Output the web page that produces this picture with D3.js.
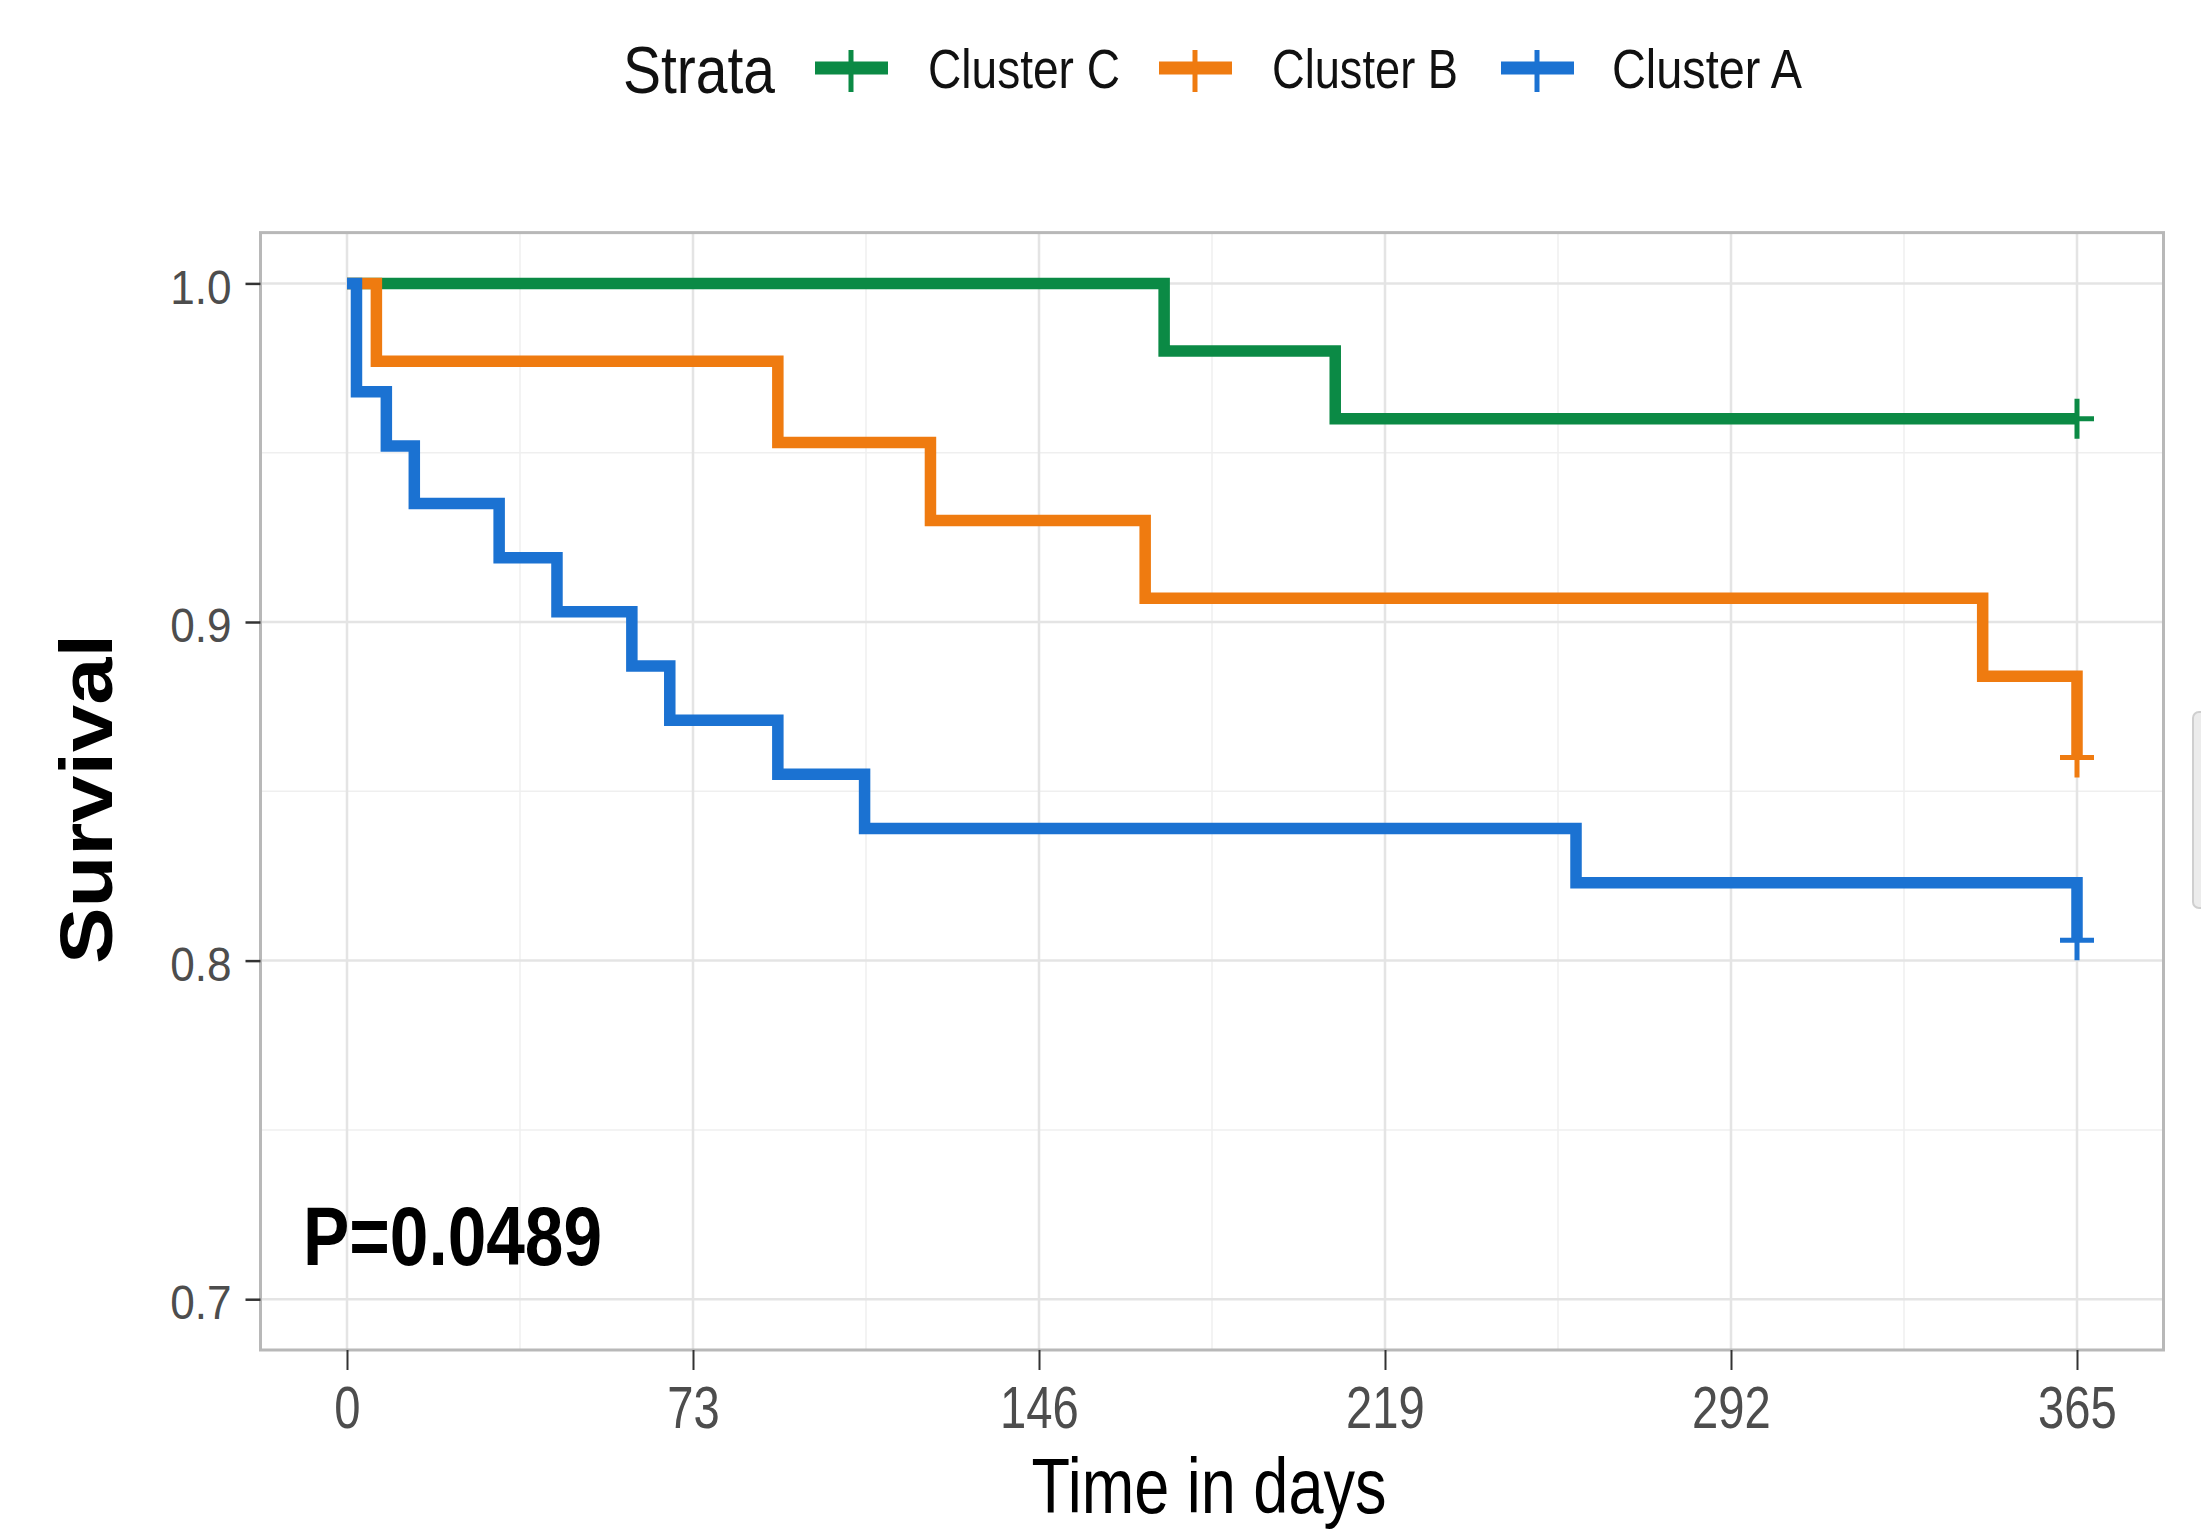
<!DOCTYPE html>
<html>
<head>
<meta charset="utf-8">
<script src="https://cdn.jsdelivr.net/npm/d3@7"></script>
<style>
  body { margin: 0; background: #fff; }
  svg { display: block; }
</style>
</head>
<body>
<div id="chart"></div>
<script>
// strata, in legend order
const strata = ["Cluster C", "Cluster B", "Cluster A"];
const colors = ["#0b8a45", "#ef7b10", "#1b72d2"];

// Kaplan-Meier steps (days, survival)
const timesC = [0, 172.4, 208.5, 365];
const survC  = [1, 0.980, 0.960, 0.960];
const timesB = [0, 6.2, 90.9, 123.1, 168.4, 345.1, 365];
const survB  = [1, 0.977, 0.953, 0.930, 0.907, 0.884, 0.860];
const timesA = [0, 2.0, 8.3, 14.2, 32.1, 44.3, 60.1, 68.1, 90.9, 109.2, 259.3, 365];
const survA  = [1, 0.968, 0.952, 0.935, 0.919, 0.903, 0.887, 0.871, 0.855, 0.839, 0.823, 0.806];
const censorTimes = [365, 365, 365];

const xTicks = [0, 73, 146, 219, 292, 365];
const xMinor = [36.5, 109.5, 182.5, 255.5, 328.5];
const yTicks = [0.7, 0.8, 0.9, 1.0];
const yMinor = [0.75, 0.85, 0.95];
const pValue = "P=0.0489";

const W = 2201, H = 1535;
const FONT = "'Liberation Sans', Arial, Helvetica, sans-serif";

const svg = d3.select("#chart").append("svg")
    .attr("width", W)
    .attr("height", H);

const x = d3.scaleLinear().domain([0, 365]).range([347, 2077]);
const y = d3.scaleLinear().domain([0.7, 1.0]).range([1299.2, 283.4]);

// ggplot style expansion of the panel
const xPad = 365 * 0.05, yPad = 0.3 * 0.05;
const px0 = x(-xPad), px1 = x(365 + xPad);
const py0 = y(1 + yPad), py1 = y(0.7 - yPad);

// squeeze text horizontally (the picture is condensed)
function squeeze(sel, k) {
    sel.each(function () {
        const w = this.getComputedTextLength();
        d3.select(this)
            .attr("textLength", w * k)
            .attr("lengthAdjust", "spacingAndGlyphs");
    });
}

// panel background + grid
svg.append("rect")
    .attr("x", px0).attr("y", py0)
    .attr("width", px1 - px0).attr("height", py1 - py0)
    .attr("fill", "#fff");

const grid = svg.append("g");
grid.selectAll(".vminor").data(xMinor).enter().append("line")
    .attr("x1", d => x(d)).attr("x2", d => x(d))
    .attr("y1", py0).attr("y2", py1)
    .attr("stroke", "#efefef").attr("stroke-width", 1.5);
grid.selectAll(".hminor").data(yMinor).enter().append("line")
    .attr("y1", d => y(d)).attr("y2", d => y(d))
    .attr("x1", px0).attr("x2", px1)
    .attr("stroke", "#efefef").attr("stroke-width", 1.5);
grid.selectAll(".vmajor").data(xTicks).enter().append("line")
    .attr("x1", d => x(d)).attr("x2", d => x(d))
    .attr("y1", py0).attr("y2", py1)
    .attr("stroke", "#e4e4e4").attr("stroke-width", 2.5);
grid.selectAll(".hmajor").data(yTicks).enter().append("line")
    .attr("y1", d => y(d)).attr("y2", d => y(d))
    .attr("x1", px0).attr("x2", px1)
    .attr("stroke", "#e4e4e4").attr("stroke-width", 2.5);

// curves (Cluster A drawn last, on top)
const series = [
    { name: strata[0], color: colors[0], t: timesC, s: survC, censor: censorTimes[0] },
    { name: strata[1], color: colors[1], t: timesB, s: survB, censor: censorTimes[1] },
    { name: strata[2], color: colors[2], t: timesA, s: survA, censor: censorTimes[2] },
];

const line = d3.line()
    .x(d => x(d[0]))
    .y(d => y(d[1]))
    .curve(d3.curveStepAfter);

series.forEach(sr => {
    const pts = sr.t.map((t, i) => [t, sr.s[i]]);
    svg.append("path")
        .datum(pts)
        .attr("fill", "none")
        .attr("stroke", sr.color)
        .attr("stroke-width", 11.5)
        .attr("stroke-linejoin", "miter")
        .attr("d", line);

    // censor mark
    const cx = x(sr.censor), cy = y(sr.s[sr.s.length - 1]);
    svg.append("path")
        .attr("d", `M${cx - 17},${cy}H${cx + 17}M${cx},${cy - 20}V${cy + 20}`)
        .attr("stroke", sr.color)
        .attr("stroke-width", 5)
        .attr("fill", "none");
});

// panel border
svg.append("rect")
    .attr("x", px0).attr("y", py0)
    .attr("width", px1 - px0).attr("height", py1 - py0)
    .attr("fill", "none")
    .attr("stroke", "#b8b8b8")
    .attr("stroke-width", 3);

// axes
const axisX = svg.append("g")
    .attr("transform", `translate(0,${py1})`)
    .call(d3.axisBottom(x).tickValues(xTicks).tickFormat(d3.format("d")).tickSize(20).tickPadding(16));
axisX.select(".domain").remove();
axisX.selectAll("line").attr("stroke", "#333").attr("stroke-width", 2);
axisX.selectAll("text")
    .attr("font-family", FONT).attr("font-size", 59).attr("fill", "#4d4d4d");
squeeze(axisX.selectAll("text"), 0.8);

const axisY = svg.append("g")
    .attr("transform", `translate(${px0},0)`)
    .call(d3.axisLeft(y).tickValues(yTicks).tickFormat(d3.format(".1f")).tickSize(15).tickPadding(14));
axisY.select(".domain").remove();
axisY.selectAll("line").attr("stroke", "#333").attr("stroke-width", 2.5);
axisY.selectAll("text")
    .attr("font-family", FONT).attr("font-size", 49).attr("fill", "#4d4d4d")
    .attr("dy", "0.4em");
squeeze(axisY.selectAll("text"), 0.9);

// axis titles
svg.append("text")
    .attr("x", (px0 + px1) / 2 - 3).attr("y", 1513)
    .attr("text-anchor", "middle")
    .attr("font-family", FONT).attr("font-size", 77).attr("fill", "#000")
    .attr("textLength", 355).attr("lengthAdjust", "spacingAndGlyphs")
    .text("Time in days");

svg.append("text")
    .attr("transform", "translate(112,799) rotate(-90)")
    .attr("text-anchor", "middle")
    .attr("font-family", FONT).attr("font-size", 74).attr("font-weight", "bold").attr("fill", "#000")
    .attr("textLength", 330).attr("lengthAdjust", "spacingAndGlyphs")
    .text("Survival");

// p-value
svg.append("text")
    .attr("x", 303).attr("y", 1265)
    .attr("font-family", FONT).attr("font-size", 84).attr("font-weight", "bold").attr("fill", "#000")
    .attr("textLength", 299).attr("lengthAdjust", "spacingAndGlyphs")
    .text(pValue);

// legend
const legend = svg.append("g");
legend.append("text")
    .attr("x", 623).attr("y", 93)
    .attr("font-family", FONT).attr("font-size", 66).attr("fill", "#111")
    .attr("textLength", 152).attr("lengthAdjust", "spacingAndGlyphs")
    .text("Strata");

const keyX = [815, 1159, 1501];
const labelX = [928, 1272, 1612];
const labelLen = [192, 186, 190];
strata.forEach((name, i) => {
    const k = legend.append("g");
    k.append("line")
        .attr("x1", keyX[i]).attr("x2", keyX[i] + 73)
        .attr("y1", 68).attr("y2", 68)
        .attr("stroke", colors[i]).attr("stroke-width", 13);
    k.append("line")
        .attr("x1", keyX[i] + 36).attr("x2", keyX[i] + 36)
        .attr("y1", 50).attr("y2", 92)
        .attr("stroke", colors[i]).attr("stroke-width", 5);
    k.append("text")
        .attr("x", labelX[i]).attr("y", 88)
        .attr("font-family", FONT).attr("font-size", 55).attr("fill", "#111")
        .attr("textLength", labelLen[i]).attr("lengthAdjust", "spacingAndGlyphs")
        .text(name);
});

// cut-off element at the right edge of the picture
svg.append("rect")
    .attr("x", 2193).attr("y", 712)
    .attr("width", 20).attr("height", 196)
    .attr("rx", 6)
    .attr("fill", "#ececec")
    .attr("stroke", "#cfcfcf")
    .attr("stroke-width", 2);
</script>
</body>
</html>
